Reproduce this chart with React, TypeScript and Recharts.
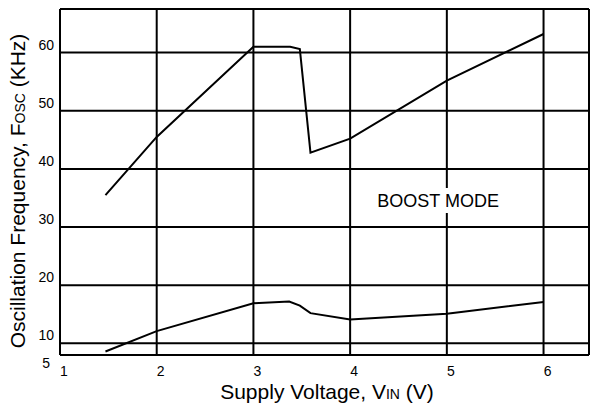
import React from "react";
import {
  LineChart,
  Line,
  XAxis,
  YAxis,
  CartesianGrid,
  ReferenceLine,
  ReferenceArea,
  Label,
} from "recharts";

// upper curve (boost mode)
const boostVin = [1.47, 2.0, 3.0, 3.38, 3.48, 3.59, 4.0, 5.0, 6.0];
const boostFosc = [35.5, 45.5, 61.0, 61.0, 60.6, 42.8, 45.2, 55.2, 63.2];

// lower curve
const lowVin = [1.47, 2.0, 3.0, 3.37, 3.48, 3.59, 4.0, 5.0, 6.0];
const lowFosc = [8.6, 12.1, 16.9, 17.2, 16.5, 15.2, 14.1, 15.1, 17.1];

const xTicks = [1, 2, 3, 4, 5, 6];
const yTicks = [8, 10, 20, 30, 40, 50, 60];
const yTickLabels = ["5", "10", "20", "30", "40", "50", "60"];

const X_MIN = 1;
const X_MAX = 6.47;
const Y_MIN = 8;
const Y_MAX = 67.5;

const FONT = "'Liberation Sans', Arial, sans-serif";

const boostData = boostVin.map((v, i) => ({ vin: v, fosc: boostFosc[i] }));
const lowData = lowVin.map((v, i) => ({ vin: v, fosc: lowFosc[i] }));

function XTick(props: any) {
  const { x, y, payload } = props;
  return (
    <text x={x + 4} y={y + 21} textAnchor="middle" fontSize={14} fill="#000" fontFamily={FONT}>
      {payload.value}
    </text>
  );
}

function YTick(props: any) {
  const { x, y, payload } = props;
  const idx = yTicks.indexOf(payload.value);
  const label = yTickLabels[idx] ?? payload.value;
  const bottom = payload.value === Y_MIN;
  return (
    <text
      x={bottom ? x - 4 : x}
      y={bottom ? y + 13 : y - 3}
      textAnchor="end"
      fontSize={14}
      fill="#000"
      fontFamily={FONT}
    >
      {label}
    </text>
  );
}

export default function App() {
  return (
    <div style={{ position: "absolute", left: 0, top: 0, width: 590, height: 412, background: "#fff" }}>
      <LineChart width={590} height={412} margin={{ top: 9, right: 1, bottom: 0, left: 0 }}>
        <CartesianGrid stroke="#000" strokeWidth={2} />
        <XAxis
          dataKey="vin"
          type="number"
          domain={[X_MIN, X_MAX]}
          ticks={xTicks}
          interval={0}
          allowDataOverflow
          height={57}
          tickLine={false}
          tickSize={0}
          tickMargin={0}
          axisLine={{ stroke: "#000", strokeWidth: 2 }}
          tick={<XTick />}
        />
        <YAxis
          dataKey="fosc"
          type="number"
          domain={[Y_MIN, Y_MAX]}
          ticks={yTicks}
          interval={0}
          allowDataOverflow
          width={60}
          tickLine={false}
          tickSize={0}
          tickMargin={6}
          axisLine={{ stroke: "#000", strokeWidth: 2 }}
          tick={<YTick />}
        />
        <ReferenceLine y={Y_MAX} stroke="#000" strokeWidth={2} />
        <ReferenceLine x={X_MAX} stroke="#000" strokeWidth={2} />
        <ReferenceArea x1={4.26} x2={5.56} y1={32.4} y2={36.7} fill="#fff" fillOpacity={1} stroke="none">
          <Label
            value="BOOST MODE"
            position="center"
            fontSize={18}
            fill="#000"
            fontFamily={FONT}
          />
        </ReferenceArea>
        <Line
          data={boostData}
          dataKey="fosc"
          stroke="#000"
          strokeWidth={2}
          dot={false}
          type="linear"
          isAnimationActive={false}
        />
        <Line
          data={lowData}
          dataKey="fosc"
          stroke="#000"
          strokeWidth={2}
          dot={false}
          type="linear"
          isAnimationActive={false}
        />
      </LineChart>
      <svg
        width={590}
        height={412}
        style={{ position: "absolute", left: 0, top: 0, pointerEvents: "none" }}
      >
        <text
          x={25}
          y={191}
          transform="rotate(-90, 25, 191)"
          textAnchor="middle"
          fontSize={21}
          fill="#000"
          fontFamily={FONT}
        >
          Oscillation Frequency, F<tspan fontSize={14}>OSC</tspan>
          <tspan> (KHz)</tspan>
        </text>
        <text x={327} y={399} textAnchor="middle" fontSize={21} fill="#000" fontFamily={FONT}>
          Supply Voltage, V<tspan fontSize={14}>IN</tspan>
          <tspan> (V)</tspan>
        </text>
      </svg>
    </div>
  );
}
